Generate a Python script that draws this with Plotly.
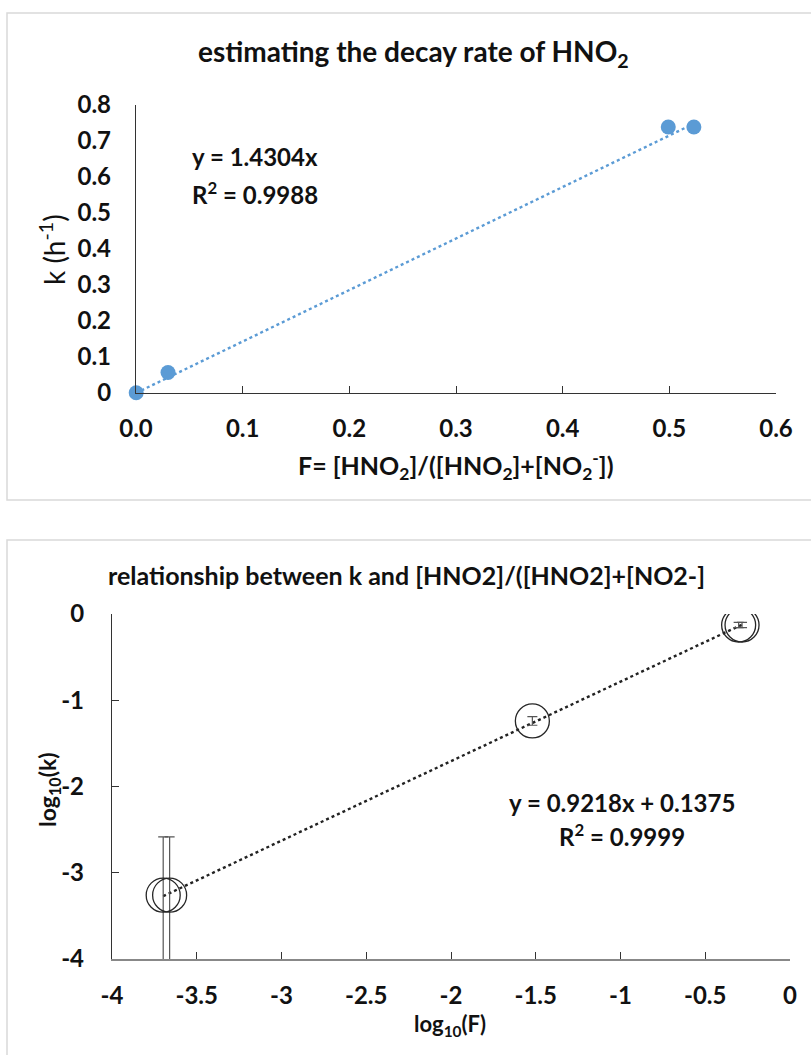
import plotly.graph_objects as go

# ---------------- data ----------------
# top chart: k vs F
F_top = [0.0002, 0.030, 0.499, 0.523]
k_top = [0.0005, 0.057, 0.739, 0.739]
slope_top = 1.4304
eq_top = ["y = 1.4304x", "R<sup>2</sup> = 0.9988"]

# bottom chart: log10(k) vs log10(F)
logF = [-3.698, -3.660, -1.520, -0.303, -0.283]
logk = [-3.26, -3.26, -1.24, -0.128, -0.128]
err_plus = [0.675, 0.675, 0.05, 0.03, 0.03]
err_minus = [1.5, 1.5, 0.05, 0.03, 0.03]
slope_bot = 0.9218
icpt_bot = 0.1375
eq_bot = ["y = 0.9218x + 0.1375", "R<sup>2</sup> = 0.9999"]

top_xticks = [0.0, 0.1, 0.2, 0.3, 0.4, 0.5, 0.6]
top_xlabels = ["0.0", "0.1", "0.2", "0.3", "0.4", "0.5", "0.6"]
top_yticks = [0, 0.1, 0.2, 0.3, 0.4, 0.5, 0.6, 0.7, 0.8]
top_ylabels = ["0", "0.1", "0.2", "0.3", "0.4", "0.5", "0.6", "0.7", "0.8"]
bot_xticks = [-4, -3.5, -3, -2.5, -2, -1.5, -1, -0.5, 0]
bot_xlabels = ["-4", "-3.5", "-3", "-2.5", "-2", "-1.5", "-1", "-0.5", "0"]
bot_yticks = [0, -1, -2, -3, -4]
bot_ylabels = ["0", "-1", "-2", "-3", "-4"]

W, H = 811, 1055
FONT = "Lato"


def px(x):
    return x / W


def py(y):
    return 1 - y / H


fig = go.Figure()

# top trendline + points
xt = [0, max(F_top)]
fig.add_trace(go.Scatter(x=xt, y=[slope_top * v for v in xt], mode="lines",
                         line=dict(color="#5b9bd5", width=2.4, dash="dot"),
                         xaxis="x", yaxis="y", hoverinfo="skip"))
fig.add_trace(go.Scatter(x=F_top, y=k_top, mode="markers",
                         marker=dict(color="#5b9bd5", size=15),
                         cliponaxis=False, xaxis="x", yaxis="y"))

# bottom trendline + points
xb = [min(logF), max(logF)]
fig.add_trace(go.Scatter(x=xb, y=[slope_bot * v + icpt_bot for v in xb], mode="lines",
                         line=dict(color="#222222", width=2.4, dash="dot"),
                         xaxis="x2", yaxis="y2", hoverinfo="skip"))
fig.add_trace(go.Scatter(x=logF, y=logk, mode="markers",
                         marker=dict(symbol="circle-open", color="#262626", size=34,
                                     line=dict(width=1.3, color="#262626")),
                         error_y=dict(type="data", symmetric=False, array=err_plus,
                                      arrayminus=err_minus, color="#555555",
                                      thickness=1.2, width=5),
                         xaxis="x2", yaxis="y2"))

tickfont = dict(family=FONT, size=24, color="#111111", weight="bold")
common = dict(showgrid=False, zeroline=False, automargin=False, tickfont=tickfont)

fig.update_layout(
    width=W, height=H,
    margin=dict(l=0, r=0, t=0, b=0, pad=0, autoexpand=False),
    paper_bgcolor="white", plot_bgcolor="white", showlegend=False,
    font=dict(family=FONT, color="#111111"),
    xaxis=dict(domain=[px(136), px(776)], range=[0, 0.6], tickvals=top_xticks,
               ticktext=top_xlabels, ticks="inside", ticklen=7, tickcolor="#333333",
               showline=True, linecolor="#333333", linewidth=1.3,
               anchor="y", ticklabelstandoff=14, **common),
    yaxis=dict(domain=[py(393), py(105)], range=[0, 0.8], tickvals=top_yticks,
               ticktext=top_ylabels, ticks="", showline=True, linecolor="#333333",
               linewidth=1.3, anchor="x", ticklabelstandoff=19, **common),
    xaxis2=dict(domain=[px(112), px(790)], range=[-4, 0], tickvals=bot_xticks,
                ticktext=bot_xlabels, ticks="inside", ticklen=7, tickcolor="#333333",
                showline=True, linecolor="#888888", linewidth=1.5,
                anchor="y2", ticklabelstandoff=14, **common),
    yaxis2=dict(domain=[py(959), py(614)], range=[-4, 0], tickvals=bot_yticks,
                ticktext=bot_ylabels, ticks="inside", ticklen=7, tickcolor="#333333",
                showline=True, linecolor="#333333", linewidth=1.3,
                anchor="x2", ticklabelstandoff=22, **common),
)

shapes = [
    dict(type="rect", xref="paper", yref="paper", x0=px(7), x1=1.02, y0=py(500), y1=py(13),
         line=dict(color="#d9d9d9", width=1.5), fillcolor="rgba(0,0,0,0)", layer="below"),
    dict(type="rect", xref="paper", yref="paper", x0=px(7), x1=1.02, y0=-0.02, y1=py(540),
         line=dict(color="#d9d9d9", width=1.5), fillcolor="rgba(0,0,0,0)", layer="below"),
]
fig.update_layout(shapes=shapes)

ann = []


def A(text, x, y, size, bold=True, xanchor="center", angle=0):
    ann.append(dict(text=text, x=px(x), y=py(y), xref="paper", yref="paper",
                    showarrow=False, xanchor=xanchor, yanchor="middle", textangle=angle,
                    font=dict(family=FONT, size=size, color="#111111",
                              weight="bold" if bold else "normal")))


A("estimating the decay rate of HNO<sub>2</sub>", 413, 53, 28)
A(eq_top[0], 190, 157, 24, xanchor="left")
A(eq_top[1], 190, 193, 24, xanchor="left")
A("k (h<sup>-1</sup>)", 52, 250, 28, bold=False, angle=-90)
A("F= [HNO<sub>2</sub>]/([HNO<sub>2</sub>]+[NO<sub>2</sub><sup>-</sup>])", 456, 465, 25)

A("relationship between k and [HNO2]/([HNO2]+[NO2-]", 406, 575, 25)
A(eq_bot[0], 622, 802, 24)
A(eq_bot[1], 622, 835, 24)
A("log<sub>10</sub>(k)", 48, 790, 23, angle=-90)
A("log<sub>10</sub>(F)", 450, 1025, 22)

fig.update_layout(annotations=ann)

fig.write_html("out.html", post_script="document.body.style.margin='0px';")
